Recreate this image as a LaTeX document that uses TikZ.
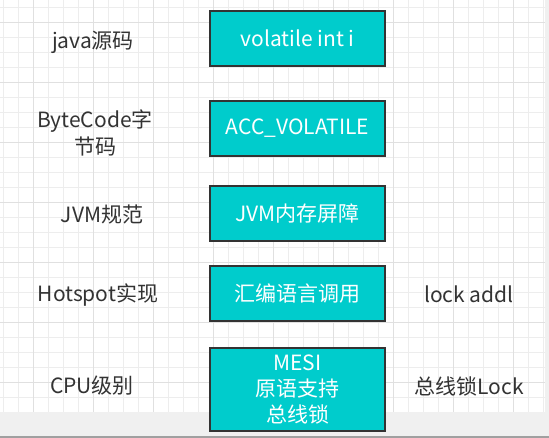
\documentclass[tikz,border=0pt]{standalone}
\usepackage{fontspec}
\setmainfont{Noto Sans CJK SC}
\definecolor{boxfill}{HTML}{00CCCC}
\definecolor{boxborder}{HTML}{333333}
\definecolor{txt}{HTML}{333333}
\definecolor{gridminor}{HTML}{EDEDED}
\definecolor{gridmajor}{HTML}{E0E0E0}
\definecolor{outside}{HTML}{F0F0F0}
\definecolor{edge}{HTML}{A0A0A0}
\begin{document}
\begin{tikzpicture}[x=1pt,y=-1pt,
  box/.style={draw=boxborder, line width=2pt, fill=boxfill, text=white,
    minimum width=175pt, minimum height=55pt, inner sep=0pt, align=center,
    font=\fontsize{21}{26}\selectfont},
  lbl/.style={text=txt, align=center, inner sep=0pt, font=\fontsize{21}{27}\selectfont},
  minorline/.style={draw=gridminor, line width=1pt},
  majorline/.style={draw=gridmajor, line width=1pt}]
\useasboundingbox (0,0) rectangle (549,438);
\fill[outside] (0,0) rectangle (549,438);
\fill[white] (0,0) rectangle (545,412);
\fill[edge] (0,436) rectangle (549,438);
\foreach \x in {3.3,18.3,...,543.4} \draw[minorline] (\x,0) -- (\x,412);
\foreach \y in {7.3,22.3,...,411} \draw[minorline] (0,\y) -- (545,\y);
\foreach \x in {33.3,93.3,...,543} \draw[majorline] (\x,0) -- (\x,412);
\foreach \y in {22.3,82.3,...,411} \draw[majorline] (0,\y) -- (545,\y);

\node[box] (b1) at (297.5,38.5) {volatile int i};
\node[box] (b2) at (297.5,128.5) {ACC\_VOLATILE};
\node[box] (b3) at (297.5,213.5) {JVM内存屏障};
\node[box] (b4) at (297.5,293.5) {汇编语言调用};
\node[box, minimum height=83pt] (b5) at (297.5,389.5) {MESI\\原语支持\\总线锁};

\node[lbl] (l1) at (93,42) {java源码};
\node[lbl] (l2) at (95,133) {ByteCode字\\节码};
\node[lbl] (l3) at (102,215) {JVM规范};
\node[lbl] (l4) at (98,295) {Hotspot实现};
\node[lbl] (l5) at (92,386) {CPU级别};
\node[lbl] (r4) at (469,294) {lock addl};
\node[lbl] (r5) at (469,386) {总线锁Lock};
\end{tikzpicture}
\end{document}
